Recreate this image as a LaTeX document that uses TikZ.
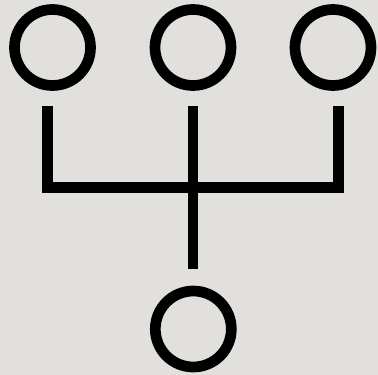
\documentclass[tikz,border=0pt]{standalone}
\definecolor{bg}{RGB}{226,224,220}
\begin{document}
\begin{tikzpicture}[x=1pt,y=-1pt,
  ring/.style={circle,draw=black,line width=10.7pt,minimum size=76pt,inner sep=0pt,outer sep=0pt},
  conn/.style={draw=black,line width=10.8pt,line cap=butt,line join=miter}]
\fill[bg] (0,0) rectangle (378,375);
\useasboundingbox (0,0) rectangle (378,375);
\node[ring] (c1) at (52.5,47.5) {};
\node[ring] (c2) at (193,47.5) {};
\node[ring] (c3) at (333,47.5) {};
\node[ring] (c4) at (193.3,329) {};
\coordinate (l1) at (47.5,106);
\coordinate (l2) at (47.5,187.5);
\coordinate (r1) at (338.8,106);
\coordinate (r2) at (338.8,187.5);
\coordinate (m1) at (193,106);
\coordinate (m2) at (193,269.3);
\draw[conn] (l1) -- (l2) -- (r2) -- (r1);
\draw[conn] (m1) -- (m2);
\end{tikzpicture}
\end{document}
